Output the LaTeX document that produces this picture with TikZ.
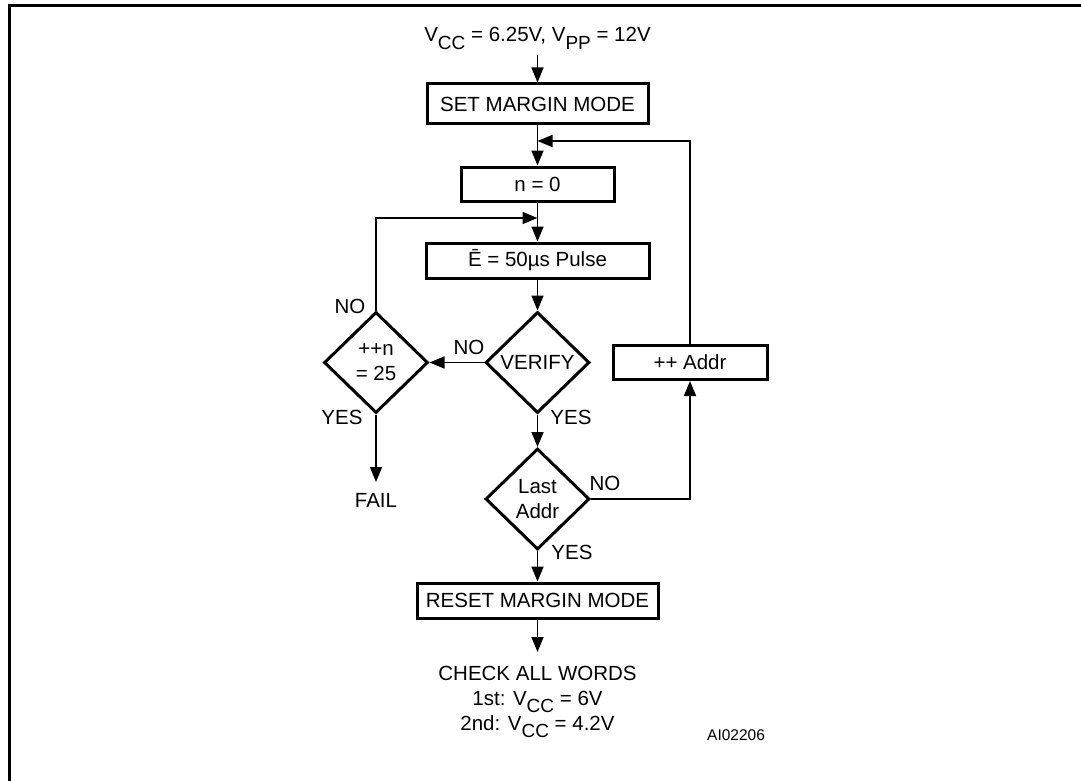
\documentclass[tikz,border=0pt]{standalone}
\usepackage{fontspec}
\setmainfont{Liberation Sans}
\usetikzlibrary{arrows.meta,shapes.geometric}
\newcommand{\lsub}[1]{\raisebox{-0.38em}[0pt][0pt]{\fontsize{19}{19}\selectfont #1}}
\begin{document}
\begin{tikzpicture}[x=1pt,y=-1pt,
  every node/.style={font=\fontsize{20.5}{25}\selectfont, inner sep=0pt},
  box/.style={draw, line width=3pt, minimum height=35pt},
  dia/.style={draw, diamond, line width=3pt, minimum width=104pt, minimum height=101pt, align=center},
  conn/.style={line width=1.6pt},
  arr/.style={conn, -{Triangle[length=15pt,width=12pt]}},
  lbl/.style={}]
\useasboundingbox (0,0) rectangle (1081,781);
\draw[line width=3pt] (9.5,781) -- (9.5,5.5) -- (1081,5.5);

\node (top) at (537.5,36) {V\lsub{CC} = 6.25V, V\lsub{PP} = 12V};
\node[box, minimum width=221pt, minimum height=40pt] (set) at (537.5,104) {SET MARGIN MODE};
\node[box, minimum width=153pt, minimum height=34pt] (n0) at (537.5,184) {n = 0};
\node[box, minimum width=223pt] (pulse) at (537.5,260.5) {\=E = 50µs Pulse};
\node[dia] (verify) at (537.5,362.5) {VERIFY};
\node[dia] (inc) at (376,362.5) {++n\\= 25};
\node[box, minimum width=154pt, minimum height=34pt] (addr) at (690,362.5) {++ Addr};
\node[dia] (last) at (537.5,499) {Last\\Addr};
\node[box, minimum width=241pt] (reset) at (537.5,600.5) {RESET MARGIN MODE};
\node[align=center, font=\fontsize{20.5}{25}\selectfont] (check) at (537.5,698) {CHECK ALL WORDS\\1st: V\lsub{CC} = 6V\\2nd: V\lsub{CC} = 4.2V};
\node (fail) at (376,500) {FAIL};
\node[anchor=west, font=\fontsize{15.5}{18}\selectfont] (id) at (707,735) {AI02206};

\coordinate (j1) at (537.5,141);
\coordinate (j2) at (537.5,218);
\coordinate (failtip) at (376,482);
\coordinate (chktip) at (537.5,652);

\draw[arr] ([yshift=-10pt]top.south) -- (set.north);
\draw[arr] (set.south) -- (n0.north);
\draw[arr] (addr.north) |- (j1);
\draw[arr] (n0.south) -- (pulse.north);
\draw[arr] (inc.north) |- (j2);
\draw[arr] (pulse.south) -- (verify.north);
\draw[arr] (verify.west) -- (inc.east);
\draw[arr] (verify.south) -- (last.north);
\draw[arr] (last.east) -| (addr.south);
\draw[arr] (last.south) -- (reset.north);
\draw[arr] (inc.south) -- (failtip);
\draw[arr] (reset.south) -- (chktip);

\node (l1) at (350,306) {NO};
\node (l2) at (342,417) {YES};
\node (l3) at (469,347) {NO};
\node (l4) at (571,417) {YES};
\node (l5) at (605,483) {NO};
\node (l6) at (572,552) {YES};
\end{tikzpicture}
\end{document}
